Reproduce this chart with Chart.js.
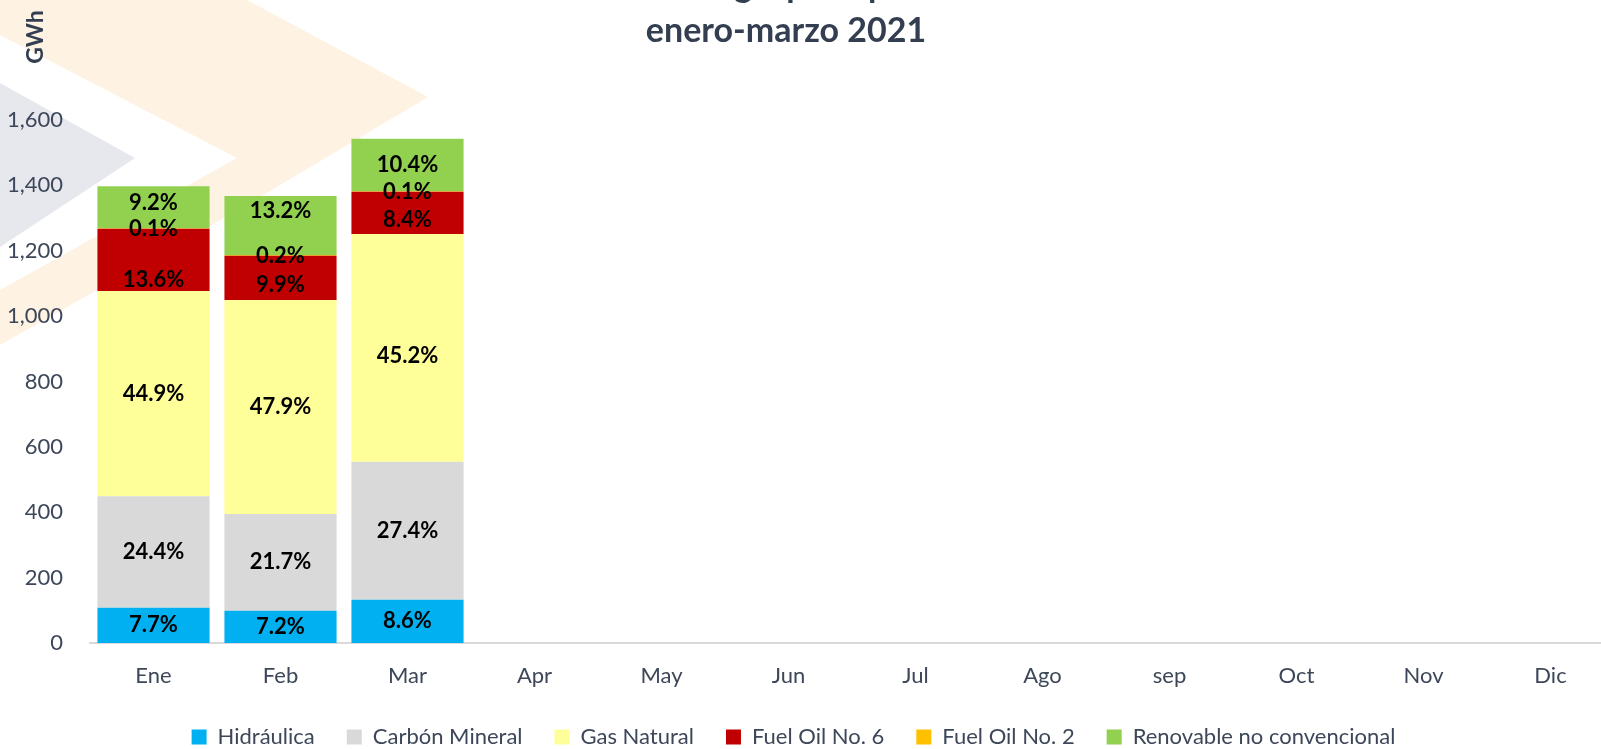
<!DOCTYPE html>
<html><head><meta charset="utf-8">
<script src="https://cdn.jsdelivr.net/npm/chart.js@4"></script>
<style>
html,body{margin:0;padding:0;background:#fff;overflow:hidden;width:1601px;height:749px}
#wrap{width:1614px;height:749px}
</style></head>
<body><div id="wrap"><canvas id="c" width="1614" height="749" style="width:1614px;height:749px"></canvas></div>
<script>
// ---- data ----
const months = ['Ene','Feb','Mar','Apr','May','Jun','Jul','Ago','sep','Oct','Nov','Dic'];
const monthTotalGWh = [1399, 1366, 1541];           // total height of each bar, GWh
const seriesNames = ['Hidráulica','Carbón Mineral','Gas Natural','Fuel Oil No. 6','Fuel Oil No. 2','Renovable no convencional'];
const hidraulicaPct   = [7.7, 7.2, 8.6];
const carbonPct       = [24.4, 21.7, 27.4];
const gasNaturalPct   = [44.9, 47.9, 45.2];
const fuelOil6Pct     = [13.6, 9.9, 8.4];
const fuelOil2Pct     = [0.1, 0.2, 0.1];
const renovablePct    = [9.2, 13.2, 10.4];
const yTickValues = [0, 200, 400, 600, 800, 1000, 1200, 1400, 1600];
const titleLines = ['Energía por tipo', 'enero-marzo 2021'];
const yAxisTitle = 'GWh';

// ---- styles ----
const colors = ['#00B0F0','#D9D9D9','#FFFF99','#C00000','#FFC000','#92D050'];
const textColor = '#3D4759';
const titleColor = '#333F50';
const FONT = 'Lato';
const LEGEND_PAD = 32;
const labelNudge = {'3-0': 20, '5-0': -4, '3-1': 7, '5-1': -15, '2-2': 8, '3-2': 7};

const pctSeries = [hidraulicaPct, carbonPct, gasNaturalPct, fuelOil6Pct, fuelOil2Pct, renovablePct];
const datasets = pctSeries.map((pct, k) => ({
  label: seriesNames[k],
  data: pct.map((p, i) => p / 100 * monthTotalGWh[i]),
  shares: pct,
  backgroundColor: colors[k],
  borderWidth: 0,
  barPercentage: 0.883,
  categoryPercentage: 1.0
}));

const watermark = {
  id: 'watermark',
  beforeDraw(chart) {
    const ctx = chart.ctx;
    ctx.save();
    ctx.fillStyle = '#FEF2E3';
    ctx.beginPath();
    ctx.moveTo(0, 0); ctx.lineTo(247, 0); ctx.lineTo(428, 97); ctx.lineTo(233, 213);
    ctx.lineTo(0, 345); ctx.lineTo(0, 290); ctx.lineTo(237, 158); ctx.lineTo(0, 35);
    ctx.closePath(); ctx.fill();
    ctx.fillStyle = '#E6E8ED';
    ctx.beginPath();
    ctx.moveTo(0, 83); ctx.lineTo(135, 158); ctx.lineTo(0, 247);
    ctx.closePath(); ctx.fill();
    ctx.restore();
  }
};

const texts = {
  id: 'texts',
  afterDraw(chart) {
    const ctx = chart.ctx;
    ctx.save();
    ctx.fillStyle = titleColor;
    ctx.font = `bold 34px ${FONT}`;
    ctx.textAlign = 'center';
    ctx.textBaseline = 'alphabetic';
    ctx.fillText(titleLines[0], 786, -3);
    ctx.fillText(titleLines[1], 786, 42);
    ctx.translate(36, 37);
    ctx.rotate(-Math.PI / 2);
    ctx.font = `bold 23px ${FONT}`;
    ctx.textBaseline = 'middle';
    ctx.fillText(yAxisTitle, 0, 0);
    ctx.restore();
  }
};

const dataLabels = {
  id: 'dataLabels',
  afterDatasetsDraw(chart) {
    const ctx = chart.ctx;
    ctx.save();
    ctx.fillStyle = '#000';
    ctx.font = `bold 22px ${FONT}`;
    ctx.textAlign = 'center';
    ctx.textBaseline = 'middle';
    chart.data.datasets.forEach((ds, k) => {
      const meta = chart.getDatasetMeta(k);
      meta.data.forEach((el, i) => {
        if (ds.shares[i] == null) return;
        const y = (el.y + el.base) / 2 + (labelNudge[k + '-' + i] || 0);
        ctx.fillText(ds.shares[i].toFixed(1) + '%', el.x, y);
      });
    });
    ctx.restore();
  }
};

// move the legend block so its row sits where the reference has it
const legendShift = {
  id: 'legendShift',
  afterLayout(chart) {
    const lg = chart.legend;
    if (!lg) return;
    const dx = -13.5;
    const dy = 737 - (lg.top + LEGEND_PAD + 11);
    lg.left += dx; lg.right += dx; lg.top += dy; lg.bottom += dy;
  }
};

new Chart(document.getElementById('c'), {
  type: 'bar',
  data: { labels: months, datasets },
  plugins: [watermark, dataLabels, legendShift, texts],
  options: {
    responsive: false,
    animation: false,
    devicePixelRatio: 1,
    layout: { padding: { top: 120, left: 0, right: 0, bottom: -24.4 } },
    scales: {
      x: {
        stacked: true,
        grid: { display: false, drawTicks: false },
        border: { display: true, color: '#D9D9D9', width: 2 },
        ticks: { color: textColor, font: { family: FONT, size: 22 }, padding: 20, maxRotation: 0, autoSkip: false }
      },
      y: {
        stacked: true,
        min: 0, max: 1600,
        afterBuildTicks(s) { s.ticks = yTickValues.map(v => ({ value: v })); },
        grid: { display: false, drawTicks: false },
        border: { display: false },
        ticks: { color: textColor, font: { family: FONT, size: 22 }, padding: 27,
          callback: v => v.toLocaleString('en-US') },
        afterFit(s) { s.width = 90; }
      }
    },
    plugins: {
      legend: {
        position: 'bottom',
        labels: { color: textColor, font: { family: FONT, size: 22 }, boxWidth: 15, boxHeight: 15, padding: LEGEND_PAD }
      },
      tooltip: { enabled: false },
      title: { display: false }
    }
  }
});
</script>
</body></html>
